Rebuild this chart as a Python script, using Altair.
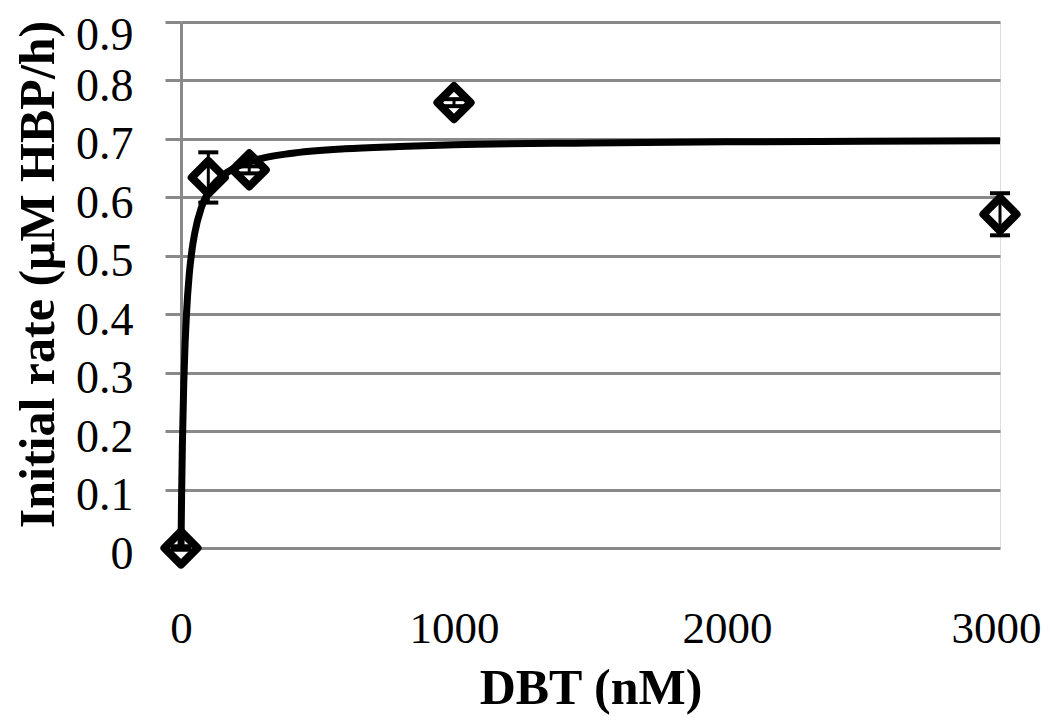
import altair as alt
import pandas as pd

# Measured data points (DBT nM, initial rate, error)
dbt = [0, 100, 250, 1000, 3000]
rate = [0.0, 0.634, 0.647, 0.762, 0.571]
err = [0.003, 0.043, 0.006, 0.006, 0.036]

# Fitted curve
curve_x = [0, 2, 5, 10, 15, 20, 30, 40, 50, 75, 100, 150, 200, 300, 400, 600, 800,
           1000, 1500, 2000, 2500, 3000]
curve_y = [0.0, 0.083, 0.175, 0.280, 0.350, 0.400, 0.467, 0.509, 0.538, 0.583, 0.609,
           0.636, 0.651, 0.667, 0.675, 0.683, 0.687, 0.690, 0.693, 0.695, 0.696, 0.697]

pts = pd.DataFrame({"x": dbt, "y": rate, "lo": [r - e for r, e in zip(rate, err)],
                    "hi": [r + e for r, e in zip(rate, err)]})
cur = pd.DataFrame({"x": curve_x, "y": curve_y})

FONT = "Liberation Serif"
GRID = "#898989"

xscale = alt.Scale(domain=[0, 3000], nice=False, zero=False)
yscale = alt.Scale(domain=[0, 0.9], nice=False)

xaxis = alt.Axis(values=[0, 1000, 2000, 3000], format="d", grid=False, domain=False,
                 ticks=False, labelFont=FONT, labelFontSize=45, labelColor="black",
                 labelPadding=58,
                 labelOffset={"condition": {"test": "datum.value == 3000", "value": -4},
                              "value": 0},
                 title="DBT (nM)", titleFont=FONT, titleFontSize=50,
                 titleFontWeight="bold", titleColor="black", titlePadding=12,
                 labelFlush=False, labelOverlap=False)
yaxis = alt.Axis(values=[0, 0.1, 0.2, 0.3, 0.4, 0.5, 0.6, 0.7, 0.8, 0.9],
                 labelExpr="datum.value == 0 ? '0' : format(datum.value, '.1f')",
                 grid=True, gridColor=GRID, gridWidth=3, gridOpacity=1,
                 domain=True, domainColor=GRID, domainWidth=3,
                 ticks=True, tickColor=GRID, tickWidth=3, tickSize=16,
                 labelFont=FONT, labelFontSize=46, labelColor="black", labelPadding=32,
                 labelOffset={"condition": {"test": "datum.value > 0.85", "value": 13},
                              "value": 6},
                 title="Initial rate (μM HBP/h)", titleFont=FONT, titleFontSize=50,
                 titleFontWeight="bold", titleColor="black", titlePadding=12,
                 titleY=252, labelFlush=False, labelOverlap=False)

base_x = alt.X("x:Q", scale=xscale, axis=xaxis)
base_y = alt.Y("y:Q", scale=yscale, axis=yaxis)

diamonds = alt.Chart(pts).mark_point(shape="diamond", size=1100, filled=False,
                                     stroke="black", strokeWidth=8, strokeJoin="round",
                                     opacity=1).encode(x=base_x, y=base_y)

line = alt.Chart(cur).mark_line(color="black", strokeWidth=7, interpolate="monotone").encode(
    x=alt.X("x:Q", scale=xscale), y=alt.Y("y:Q", scale=yscale))

bars = alt.Chart(pts).mark_rule(color="black", strokeWidth=3).encode(
    x=alt.X("x:Q", scale=xscale), y=alt.Y("lo:Q", scale=yscale), y2="hi:Q")

cap_hi = alt.Chart(pts).mark_point(shape="M-1,0L1,0", size=400, stroke="black",
                                   strokeWidth=4, opacity=1, filled=False).encode(
    x=alt.X("x:Q", scale=xscale), y=alt.Y("hi:Q", scale=yscale))
cap_lo = alt.Chart(pts).mark_point(shape="M-1,0L1,0", size=400, stroke="black",
                                   strokeWidth=4, opacity=1, filled=False).encode(
    x=alt.X("x:Q", scale=xscale), y=alt.Y("lo:Q", scale=yscale))

chart = alt.layer(diamonds, line, bars, cap_hi, cap_lo).properties(
    width=819, height=526,
    padding={"left": 173, "top": 14, "right": 42, "bottom": 171},
    autosize="none",
).configure_view(stroke=None).configure(background="white")

chart.save("out.html", embed_options={"renderer": "svg", "actions": False})
